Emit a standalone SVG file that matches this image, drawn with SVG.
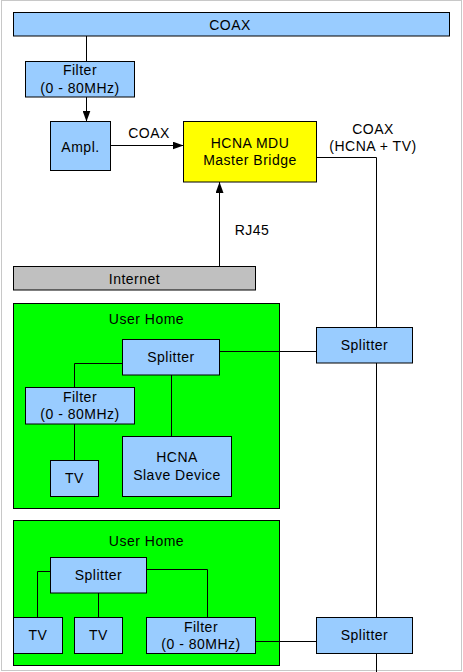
<svg xmlns="http://www.w3.org/2000/svg" width="463" height="672" viewBox="0 0 463 672">
<defs>
<style>
.b{fill:#99ccff;stroke:#000;stroke-width:1}
.t{font-family:"Liberation Sans",Arial,sans-serif;font-size:14px;letter-spacing:0.5px;fill:#000;text-anchor:middle}
.c{fill:none;stroke:#000;stroke-width:1}
</style>
<marker id="ah" markerUnits="userSpaceOnUse" markerWidth="12" markerHeight="8" refX="11" refY="4" orient="auto">
<path d="M0,0 L11,4 L0,8 Z" fill="#000"/>
</marker>
</defs>
<rect x="1.5" y="0.5" width="460" height="670" fill="#fff" stroke="#c8c8c8"/>
<g id="home1"><rect x="13.5" y="303.5" width="266" height="205" fill="#00ff00" stroke="#000"/><text class="t" x="146.5" y="323.5">User Home</text></g>
<g id="home2"><rect x="13.5" y="520.5" width="266" height="145" fill="#00ff00" stroke="#000"/><text class="t" x="146.5" y="545.5">User Home</text></g>
<g id="connectors">
<path class="c" d="M86.5,36 V61.5"/>
<path class="c" d="M86.5,97 V121.5" marker-end="url(#ah)"/>
<path class="c" d="M110.5,145.5 H183.5" marker-end="url(#ah)"/>
<path class="c" d="M219.5,266.5 V182" marker-end="url(#ah)"/>
<path class="c" d="M316.5,157.5 H376.5 V672"/>
<path class="c" d="M219.5,351.5 H316.5"/>
<path class="c" d="M122.5,363.5 H74.5 V387.5"/>
<path class="c" d="M74.5,424 V460.5"/>
<path class="c" d="M171.5,375 V436.5"/>
<path class="c" d="M50.5,571.5 H37.5 V617.5"/>
<path class="c" d="M98.5,593 V617.5"/>
<path class="c" d="M146.5,569.5 H207.5 V617.5"/>
<path class="c" d="M255.5,641.5 H316.5"/>
<text class="t" x="149" y="137.5">COAX</text>
<text class="t" x="373" y="133.5">COAX</text>
<text class="t" x="373" y="151">(HCNA + TV)</text>
<text class="t" x="252" y="234.5">RJ45</text>
</g>
<g id="coax"><rect class="b" x="13.5" y="12.5" width="436" height="23.5"/><text class="t" x="230" y="29.5">COAX</text></g>
<g id="filter0"><rect class="b" x="25.5" y="61.5" width="109" height="35.5"/><text class="t" x="80" y="75">Filter</text><text class="t" x="80" y="92.5">(0 - 80MHz)</text></g>
<g id="ampl"><rect class="b" x="50.5" y="121.5" width="60" height="49"/><text class="t" x="80.5" y="151.5">Ampl.</text></g>
<g id="master"><rect x="183.5" y="121.5" width="133" height="60.5" fill="#ffff00" stroke="#000"/><text class="t" x="250" y="147.5">HCNA MDU</text><text class="t" x="250" y="165">Master Bridge</text></g>
<g id="internet"><rect x="13.5" y="266.5" width="242" height="23.5" fill="#c0c0c0" stroke="#000"/><text class="t" x="134.5" y="284">Internet</text></g>
<g id="splitterA"><rect class="b" x="316.5" y="327.5" width="96" height="35.5"/><text class="t" x="364.5" y="350">Splitter</text></g>
<g id="splitter1"><rect class="b" x="122.5" y="339.5" width="97" height="35.5"/><text class="t" x="171" y="361.5">Splitter</text></g>
<g id="filter1"><rect class="b" x="25.5" y="387.5" width="109" height="36.5"/><text class="t" x="80" y="401.5">Filter</text><text class="t" x="80" y="419">(0 - 80MHz)</text></g>
<g id="tv1"><rect class="b" x="50.5" y="460.5" width="48" height="36"/><text class="t" x="74.5" y="482.5">TV</text></g>
<g id="slave"><rect class="b" x="122.5" y="436.5" width="109" height="60"/><text class="t" x="177" y="461.5">HCNA</text><text class="t" x="177" y="480">Slave Device</text></g>
<g id="splitter2"><rect class="b" x="50.5" y="557.5" width="96" height="35.5"/><text class="t" x="98.5" y="579.5">Splitter</text></g>
<g id="tv2a"><rect class="b" x="13.5" y="617.5" width="49" height="36"/><text class="t" x="38" y="640">TV</text></g>
<g id="tv2b"><rect class="b" x="74.5" y="617.5" width="48" height="36"/><text class="t" x="98.5" y="640">TV</text></g>
<g id="filter2"><rect class="b" x="146.5" y="617.5" width="109" height="36"/><text class="t" x="201" y="631.5">Filter</text><text class="t" x="201" y="649">(0 - 80MHz)</text></g>
<g id="splitterB"><rect class="b" x="316.5" y="617.5" width="96" height="36"/><text class="t" x="364.5" y="640">Splitter</text></g>
</svg>
